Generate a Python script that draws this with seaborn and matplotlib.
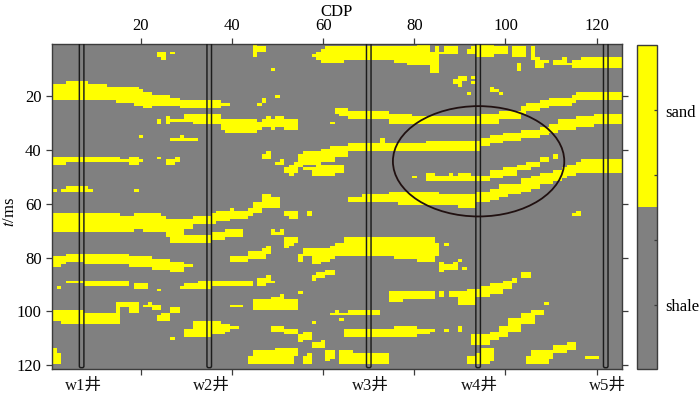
import numpy as np
import matplotlib
matplotlib.use("Agg")
import matplotlib.pyplot as plt
from matplotlib.colors import ListedColormap
from matplotlib.patches import Ellipse, FancyBboxPatch
from matplotlib.transforms import blended_transform_factory
import seaborn as sns

# every sand patch: (first CDP, last CDP, first t, last t), samples on the 125 x 121 grid
n_cdp = 125
n_t = 121
specks_top = [(24,25,4,5),(25,25,6,6),(27,27,4,4),(45,45,1,5),(46,47,2,3),(49,49,10,10),(47,47,21,22),(46,46,23,23),
              (50,50,20,20),(24,24,29,30),(26,26,28,30),(20,20,35,35),(27,32,36,36),(29,29,35,35),(62,62,30,30),
              (89,89,14,15),(90,90,13,16),(91,91,13,14),(93,93,13,13),(93,93,15,15),(92,92,19,19),(97,97,17,18),
              (98,98,18,18),(99,99,19,19),(24,24,43,43),(26,27,44,45),(28,28,43,44),(47,48,42,43),(48,48,41,41),
              (50,51,45,45),(51,51,44,44),(80,80,50,50),(111,111,42,43),(1,1,55,55),(3,3,55,55),(4,8,54,55),
              (9,9,55,55),(19,19,55,55),(57,57,63,64),(115,115,64,64),(116,116,63,64),
              (52,52,63,64),(53,54,63,65)]
band_t20_left = [(1,3,16,21),(4,8,15,21),(9,12,16,21),(13,14,17,21),(15,18,17,22),(19,19,17,23),(20,20,18,23),
                 (21,22,19,24),(23,26,20,23),(27,28,21,23),(29,37,22,24),(38,39,23,23)]
band_t30_left = [(27,29,29,29),(30,31,27,29),(32,37,27,30),(38,38,29,32),(39,45,29,33),(46,46,30,32),(47,47,29,31),
                 (48,48,28,31),(49,49,29,32),(50,51,28,31),(52,54,29,32)]
band_t43_left = [(1,3,43,45),(4,15,43,44),(16,17,44,44),(18,19,43,45),(20,20,44,44)]
band_top = [(58,58,5,5),(59,59,4,6),(60,60,3,7),(61,64,2,7),(65,71,2,6),(72,76,2,6),(76,78,2,7),(79,80,2,8),(81,83,1,8),
            (84,84,4,11),(85,85,2,11),(86,86,4,4),(87,89,2,4),(92,92,3,4),(93,93,2,4),(94,97,1,5),(98,100,2,4),
            (102,104,2,5),(103,103,8,10),(106,106,2,6),(107,107,6,9),(108,108,7,9),(109,109,7,7),(111,113,7,8),
            (113,113,6,6),(114,114,8,8),(115,116,7,9),(117,125,6,9)]
band_upper = [(116,125,19,21),(115,115,20,22),(110,114,21,23),(108,109,22,24),(105,107,23,25),(104,104,24,26),
              (99,103,26,28),(95,98,27,30),(80,94,28,30),(75,79,27,30),(73,74,26,28),(66,72,26,28),(64,65,25,27),(63,63,25,26)]
band_middle = [(120,125,27,30),(116,119,28,31),(112,115,29,32),(110,111,31,33),(108,109,32,34),(104,107,33,35),
               (100,103,34,36),(97,99,35,37),(95,96,36,38),(83,94,37,40),(73,82,38,40),(73,73,36,37),(66,72,38,40),
               (62,65,39,42),(60,62,40,44),(56,59,41,45),(55,55,42,46),(54,54,45,48),(53,53,46,49),(52,52,47,48),
               (56,57,47,47)]
band_lens = [(58,58,47,49),(59,62,46,49),(63,64,46,48),(83,96,50,51),(83,84,49,49),(88,88,49,49),(90,92,49,49),
             (97,99,48,50),(100,102,47,49),(103,105,46,47),(105,107,45,46),(108,109,43,44)]
band_lower = [(117,125,44,48),(116,116,45,48),(114,115,46,49),(113,113,47,50),(111,112,48,51),(108,110,49,52),
              (106,107,50,54),(104,105,51,55),(101,103,53,56),(99,100,53,57),(97,98,55,58),(94,96,56,59),(90,93,57,61),
              (86,89,57,60),(77,85,56,60),(75,76,56,59),(69,74,57,59),(66,68,58,59)]
band_t67 = [(1,15,64,70),(16,18,65,70),(19,20,64,69),(21,24,64,70),(25,25,65,70),(26,26,66,72),(27,29,66,74),(30,31,66,69),
            (30,35,72,74),(32,35,65,67),(36,36,64,67),(37,39,63,66),(36,38,71,73),(39,42,70,72),(40,40,62,65),(41,43,63,65),
            (44,44,62,64),(45,46,60,63),(47,48,57,61),(49,50,58,61)]
specks_mid = [(49,49,70,71),(50,50,71,71),(51,51,70,71),(52,52,73,76),(53,53,73,75),(54,54,73,74),(87,87,75,75),
              (86,86,82,85),(87,88,83,84),(89,89,82,84),(90,90,81,81),(91,91,84,84),(62,62,85,86),(58,58,87,88),
              (59,60,86,87),(61,62,85,86),(2,2,91,91),(24,24,92,92),(29,29,91,91),(104,105,86,87),(102,102,88,89),
              (55,55,93,93),(64,64,103,103),(58,58,104,104),(109,109,97,97),(86,86,93,94),(27,27,110,110)]
band_t80_left = [(1,2,80,83),(3,3,80,82),(4,7,79,81),(8,17,79,82),(18,22,80,83),(23,26,81,84),(27,29,82,85),(30,31,83,83)]
band_t77_right = [(40,43,80,81),(44,46,78,80),(47,47,77,80),(48,48,76,78),(55,55,79,81),(56,57,77,79),(58,59,77,82),
                  (60,61,77,81),(62,62,76,80),(63,64,75,79),(65,66,73,79),(67,75,73,79),(76,80,73,80),(81,84,73,81),(85,85,75,79)]
band_t89 = [(4,7,89,89),(8,17,89,90),(19,21,90,91),(30,32,90,91),(33,35,89,91),(36,44,89,90),(46,47,88,90),
            (48,48,87,89),(49,49,89,89)]
band_t93 = [(75,77,93,96),(78,84,93,95),(88,89,93,94),(90,91,93,97),(92,93,92,97),(94,94,92,94),(95,96,91,94),
            (97,99,90,93),(100,101,89,91)]
band_t100 = [(1,7,100,103),(3,7,104,104),(8,15,101,104),(15,15,98,100),(15,19,97,98),(18,19,99,100),(21,21,98,98),
             (22,22,97,98),(23,24,98,99),(24,24,102,103),(25,26,101,103),(27,28,99,100),(40,42,98,98),(45,45,97,98),(45,54,96,99),
             (49,51,95,95),(51,51,94,94),(62,62,101,101),(63,63,100,101),(64,65,101,101),(66,72,100,101)]
band_t106 = [(32,37,104,106),(38,39,105,107),(40,41,106,106),(30,35,107,109),(36,38,107,108),(49,51,106,107),(52,54,107,108),
             (55,55,109,111),(56,57,108,110),(58,59,112,113),(60,60,111,113),(65,65,107,109),(66,75,107,109),(76,80,106,109),
             (81,83,107,108),(84,84,107,107),(87,87,107,107),(90,90,106,107),(93,96,109,112),(97,98,108,110),(99,100,106,109),
             (101,103,103,107),(104,106,101,104),(106,108,100,101)]
band_bottom = [(1,1,114,119),(2,2,116,119),(44,45,117,119),(45,49,115,119),(50,53,114,119),(54,54,114,116),(56,57,117,119),
               (57,57,116,116),(61,61,115,118),(62,62,115,117),(64,66,115,119),(67,74,116,119),(92,93,117,119),(94,94,116,119),
               (95,96,114,119),(97,97,114,118),(105,105,117,119),(106,109,115,119),(110,110,115,117),(111,113,113,115),
               (114,115,112,114),(118,120,117,117)]

x_ticks = [20, 40, 60, 80, 100, 120]
y_ticks = [20, 40, 60, 80, 100, 120]
well_cdp = [7, 35, 70, 94, 122]
well_names = ["w1井", "w2井", "w3井", "w4井", "w5井"]
facies_names = ["shale", "sand"]
facies_colors = ["#808080", "#FFFF00"]

sand = np.zeros((n_t, n_cdp))
for group in (specks_top, band_t20_left, band_t30_left, band_t43_left, band_top, band_upper, band_middle, band_lens,
              band_lower, band_t67, specks_mid, band_t80_left, band_t77_right, band_t89, band_t93, band_t100,
              band_t106, band_bottom):
    for c0, c1, t0, t1 in group:
        sand[t0 - 1:t1, c0 - 1:c1] = 1

plt.rcParams["font.family"] = ["Liberation Serif", "Noto Sans CJK SC"]
plt.rcParams["mathtext.fontset"] = "stix"
plt.rcParams["font.size"] = 12

W, H = 700, 397
fig = plt.figure(figsize=(W / 100, H / 100), dpi=100)
ax = fig.add_axes([52 / W, 1 - 369.3 / H, 569.7 / W, 325.6 / H])
cax = fig.add_axes([637.3 / W, 1 - 369.3 / H, 19.4 / W, 324 / H])

sns.heatmap(sand, ax=ax, cbar_ax=cax, cmap=ListedColormap(facies_colors), vmin=0, vmax=1,
            xticklabels=False, yticklabels=False)

edge = "#3c3c3c"
ax.set_xticks([c - 0.5 for c in x_ticks], labels=[str(c) for c in x_ticks])
ax.set_yticks([t - 0.5 for t in y_ticks], labels=[str(t) for t in y_ticks], rotation=0)
ax.tick_params(axis="x", top=True, bottom=True, labeltop=True, labelbottom=False, length=4.2, width=0.9,
               color=edge, labelsize=12, pad=2.5, labelrotation=0)
ax.tick_params(axis="y", left=True, right=True, labelleft=True, length=4.2, width=0.9, color=edge, labelsize=12, pad=3.2)
ax.xaxis.set_label_position("top")
ax.set_xlabel("CDP", fontsize=12, labelpad=1.5)
ax.set_ylabel(r"$\mathit{t}$/ms", fontsize=12, labelpad=-2)
ax.yaxis.set_label_coords(-0.0596, 0.483)
for s in ax.spines.values():
    s.set_visible(True)
    s.set_color(edge)
    s.set_linewidth(1.0)

trans = blended_transform_factory(ax.transData, ax.transAxes)
for c, name in zip(well_cdp, well_names):
    ax.add_patch(FancyBboxPatch((c - 1, -3), 1, 123.4, boxstyle="round,pad=0,rounding_size=0.35",
                                mutation_aspect=1.7, fill=False, ec="#1c1c1c", lw=1.05, zorder=3))
    ax.text(c - 0.1, -0.052, name, transform=trans, ha="center", va="center", fontsize=12, color="#111111")

ax.add_patch(Ellipse((93.6, 43.7), 37.6, 41, fill=False, ec="#201010", lw=1.3, zorder=4))

cbar = ax.collections[0].colorbar
cbar.set_ticks([0.2, 0.4, 0.6, 0.8], labels=["", "", "", ""])
cbar.ax.tick_params(direction="in", length=2.5, width=0.9, color=edge)
for value, name in zip([0.2, 0.8], facies_names):
    cax.annotate(name, xy=(1, value), xycoords=("axes fraction", "data"), xytext=(6, -1.8),
                 textcoords="offset points", ha="left", va="center", fontsize=12)
cbar.outline.set_visible(True)
cbar.outline.set_edgecolor(edge)
cbar.outline.set_linewidth(1.0)

fig.savefig("out.png", dpi=100)
